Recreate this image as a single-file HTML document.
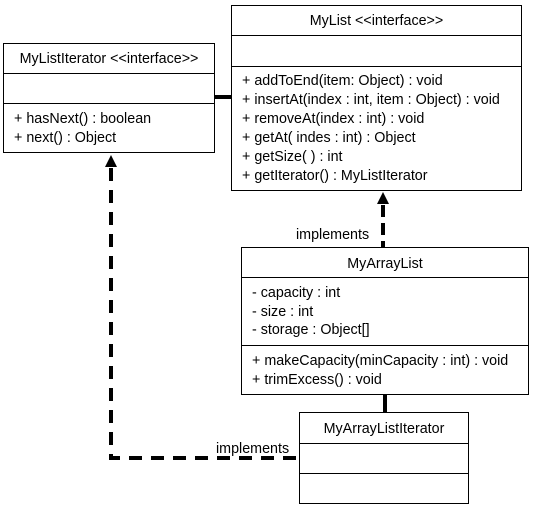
<!DOCTYPE html>
<html><head><style>
body{margin:0;background:#fff;width:536px;height:508px;overflow:hidden;position:relative;font-family:"Liberation Sans",sans-serif;font-size:14.3px;color:#000}
.b{position:absolute;border:1.5px solid #000;box-sizing:border-box;background:#fff}
.l{position:absolute;left:0;right:0;border-top:1.5px solid #000}
.t{position:absolute;white-space:nowrap;line-height:18px;transform-origin:0 0}
</style></head><body>
<svg width="536" height="508" style="position:absolute;left:0;top:0">
<line x1="214" y1="97" x2="232" y2="97" stroke="#000" stroke-width="4"/>
<line x1="385" y1="394" x2="385" y2="412" stroke="#000" stroke-width="4"/>
<line x1="383" y1="205" x2="383" y2="247" stroke="#000" stroke-width="4" stroke-dasharray="12,6"/>
<polygon points="383,192 377,204 389,204" fill="#000"/>
<polyline points="111,168 111,458 300,458" fill="none" stroke="#000" stroke-width="4" stroke-dasharray="13,9"/>
<polygon points="111,155 105,167 117,167" fill="#000"/>
</svg>
<div class="b" style="left:231px;top:5px;width:291px;height:186px">
<div class="l" style="top:29px"></div><div class="l" style="top:60px"></div>
<div class="t" style="left:0;right:0;text-align:center;top:6px">MyList &lt;&lt;interface&gt;&gt;</div>
<div class="t" style="left:10px;top:66px;line-height:19px">+ addToEnd(item: Object) : void<br>+ insertAt(index : int, item : Object) : void<br>+ removeAt(index : int) : void<br>+ getAt( indes : int) : Object<br>+ getSize( ) : int<br>+ getIterator() : MyListIterator</div>
</div>
<div class="b" style="left:3px;top:43px;width:212px;height:110px">
<div class="l" style="top:29px"></div><div class="l" style="top:59px"></div>
<div class="t" style="left:0;right:0;text-align:center;top:6px">MyListIterator &lt;&lt;interface&gt;&gt;</div>
<div class="t" style="left:10px;top:66px;line-height:19px">+ hasNext() : boolean<br>+ next() : Object</div>
</div>
<div class="t" style="left:296px;top:226px">implements</div>
<div class="b" style="left:241px;top:247px;width:288px;height:148px">
<div class="l" style="top:29px"></div><div class="l" style="top:97px"></div>
<div class="t" style="left:0;right:0;text-align:center;top:7px">MyArrayList</div>
<div class="t" style="left:10px;top:36px;line-height:18.5px">- capacity : int<br>- size : int<br>- storage : Object[]</div>
<div class="t" style="left:10px;top:104px;line-height:19px">+ makeCapacity(minCapacity : int) : void<br>+ trimExcess() : void</div>
</div>
<div class="b" style="left:299px;top:412px;width:170px;height:92px">
<div class="l" style="top:30px"></div><div class="l" style="top:60px"></div>
<div class="t" style="left:0;right:0;text-align:center;top:7px">MyArrayListIterator</div>
</div>
<div class="t" style="left:216px;top:440px">implements</div>
</body></html>
